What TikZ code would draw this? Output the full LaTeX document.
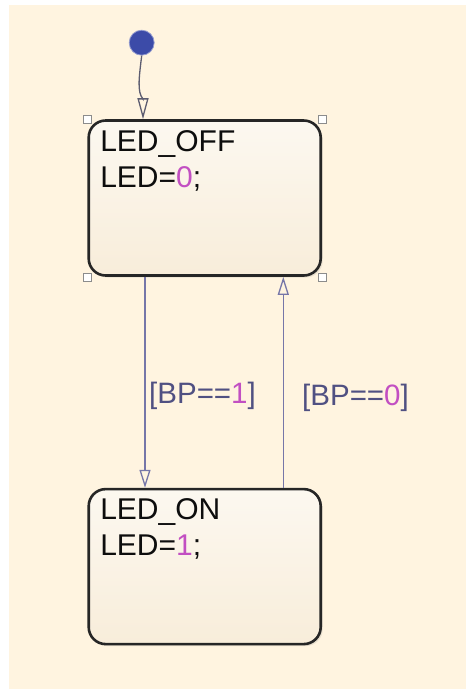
\documentclass[tikz,border=0pt]{standalone}
\usepackage{fontspec}
\setmainfont{Liberation Sans}
\usetikzlibrary{positioning}
\usetikzlibrary{arrows.meta, shadows}

\definecolor{chartbg}{HTML}{FFF4E0}
\definecolor{statetop}{HTML}{FCF8F0}
\definecolor{statebot}{HTML}{F8EDDA}
\definecolor{transline}{HTML}{7676A8}
\definecolor{initline}{HTML}{5C5C70}
\definecolor{condtext}{HTML}{505082}
\definecolor{numtext}{HTML}{C24FC2}
\definecolor{initdot}{HTML}{3C4BA8}

\tikzset{
  statebox/.style={draw=black!85, line width=2.6pt, rounded corners=17pt,
    minimum width=232pt, minimum height=155pt, top color=statetop, bottom color=statebot,
    drop shadow={opacity=0.18, shadow xshift=2pt, shadow yshift=-2pt}},
  statetext/.style={anchor=north west, inner sep=0pt, align=left, text=black!95,
    font=\fontsize{30}{36}\selectfont},
  trans/.style={draw=transline, line width=1.3pt, -{Triangle[open, length=18pt, width=11pt]}},
  cond/.style={anchor=base west, inner sep=0pt, text=condtext, font=\fontsize{29.5}{36}\selectfont},
  handle/.style={draw=black!45, fill=white, line width=0.6pt, minimum size=8pt, inner sep=0pt}
}

\begin{document}
\begin{tikzpicture}[x=1pt,y=-1pt]
\useasboundingbox (0,0) rectangle (466,689);
\fill[white] (0,0) rectangle (466,689);
\fill[chartbg] (9,5) rectangle (466,689);

\node[statebox] (offst) at (204.7,198) {};
\node[statebox, below=211pt of offst] (onst) {};

\node[statetext] (offtxt) at ([xshift=12.7pt,yshift=-10.7pt]offst.north west) {LED\_OFF\\LED=\textcolor{numtext}{0};};
\node[statetext] (ontxt) at ([xshift=12.7pt,yshift=-10.7pt]onst.north west) {LED\_ON\\LED=\textcolor{numtext}{1};};

\node[handle] (hnw) at (offst.north west) {};
\node[handle] (hne) at (offst.north east) {};
\node[handle] (hsw) at (offst.south west) {};
\node[handle] (hse) at (offst.south east) {};

\node[circle, fill=initdot, draw=initdot!55, line width=0.8pt, minimum size=25pt, inner sep=0pt] (init) at (141.7,42.7) {};
\draw[trans, draw=initline, -{Triangle[open, length=21pt, width=11pt]}] (init.south) .. controls (139,78) and (137,92) .. (143,99) -- ([xshift=-61.7pt]offst.north);

\draw[trans] ([xshift=-59.7pt]offst.south) -- ([xshift=-59.7pt]onst.north);
\draw[trans] ([xshift=78.6pt]onst.north) -- ([xshift=78.6pt]offst.south);

\node[cond] (cond1) at (149,403.5) {[BP==\textcolor{numtext}{1}]};
\node[cond] (cond0) at (302,405.5) {[BP==\textcolor{numtext}{0}]};

\end{tikzpicture}
\end{document}
